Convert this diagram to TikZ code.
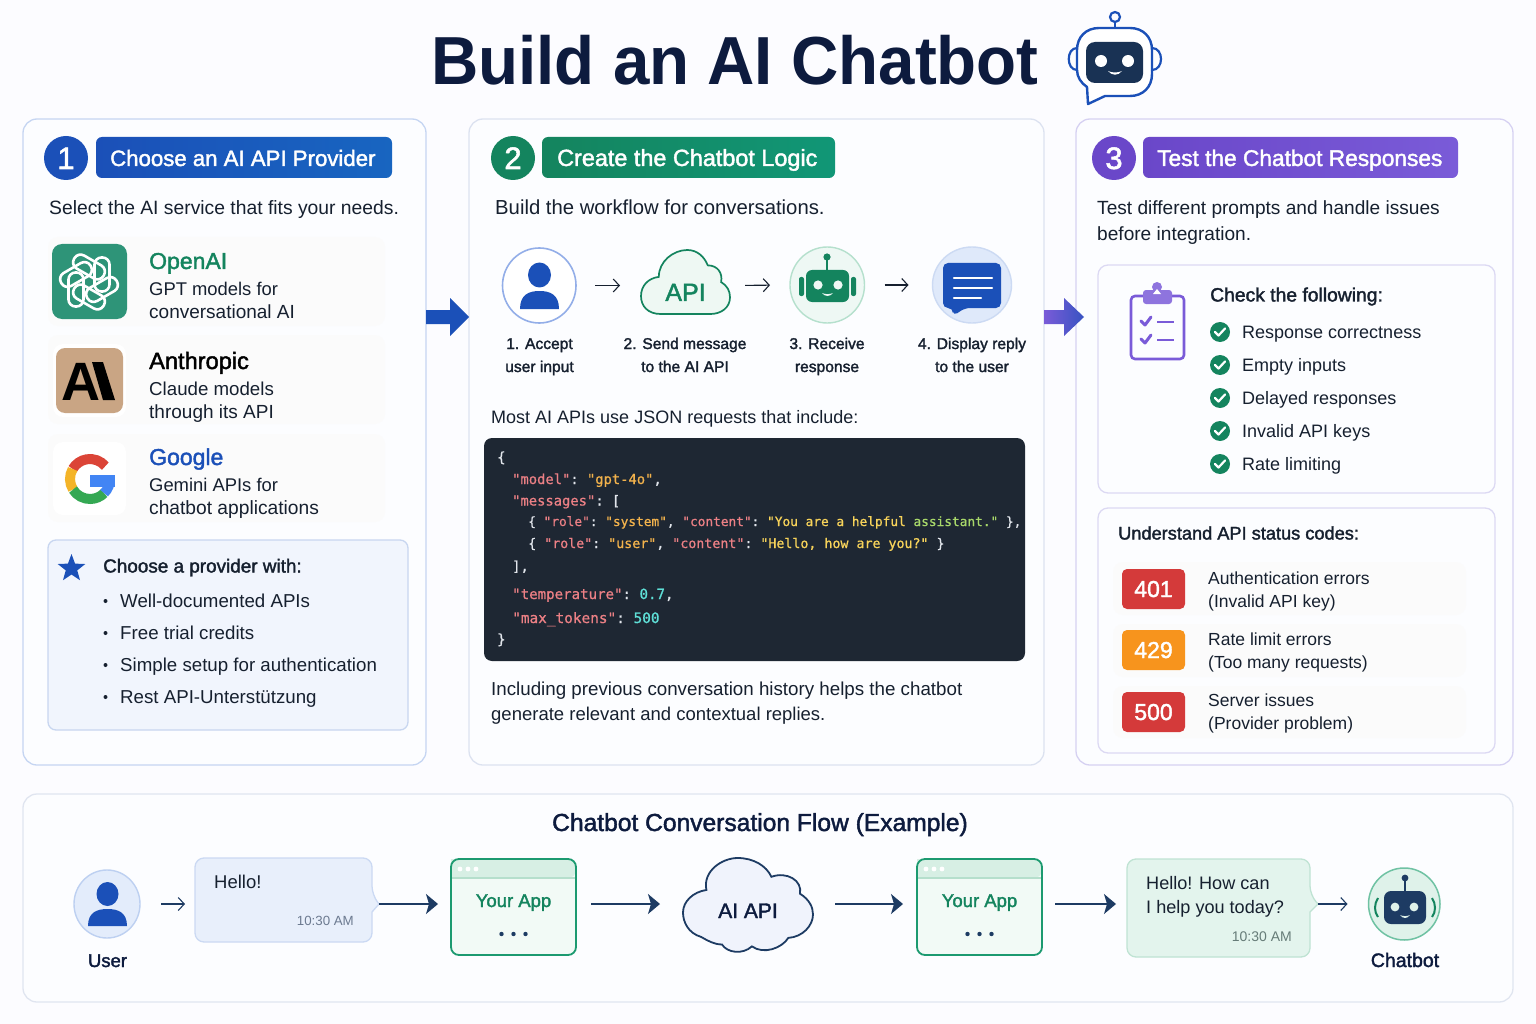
\documentclass[tikz,border=0pt]{standalone}
\usepackage{fontspec}
\usetikzlibrary{arrows.meta,shapes.geometric,calc}
\setmainfont{Liberation Sans}
\setmonofont[FakeBold=0.8]{DejaVu Sans Mono}
\newfontfamily\fsemi[FakeBold=1.8]{Liberation Sans}
\definecolor{ink}{HTML}{16202F}
\definecolor{navy}{HTML}{0D1B3E}
\definecolor{blu}{HTML}{1B50B8}
\definecolor{grn}{HTML}{14845E}
\definecolor{pur}{HTML}{7A5BD8}
\definecolor{pur2}{HTML}{6A47C9}
\definecolor{flow}{HTML}{1D3B63}
\definecolor{ckey}{HTML}{EC8085}
\definecolor{cstr}{HTML}{F2B24C}
\definecolor{cmsg}{HTML}{F7D35A}
\definecolor{cgrn}{HTML}{A8D86A}
\definecolor{cnum}{HTML}{5FE0D8}
\definecolor{cpun}{HTML}{E2E6EC}
\definecolor{bp1}{HTML}{C5D5F2}
\definecolor{bp2}{HTML}{DCE2F0}
\definecolor{bp3}{HTML}{D6D1F2}
\definecolor{bp4}{HTML}{E0E5F0}
\definecolor{pfill}{HTML}{FCFDFF}
\definecolor{oaig}{HTML}{2E9478}
\definecolor{anth}{HTML}{C9A584}
\definecolor{gred}{HTML}{DB4437}
\definecolor{gyel}{HTML}{F4B428}
\definecolor{ggrn}{HTML}{34A853}
\definecolor{gblu}{HTML}{4285F4}
\definecolor{cbf}{HTML}{F1F5FD}
\definecolor{cbd}{HTML}{C8D6F0}
\definecolor{perc}{HTML}{93AEE8}
\definecolor{cloudf}{HTML}{EEF8F3}
\definecolor{rcf}{HTML}{EEF8F4}
\definecolor{rcd}{HTML}{B5E0CD}
\definecolor{chf}{HTML}{DFE9FA}
\definecolor{chd}{HTML}{CCDAF3}
\definecolor{codebg}{HTML}{1E2733}
\definecolor{bxd}{HTML}{DCD9F3}
\definecolor{scr}{HTML}{D43A3A}
\definecolor{sco}{HTML}{F7941D}
\definecolor{fuf}{HTML}{E3ECFB}
\definecolor{fud}{HTML}{BDD0F1}
\definecolor{bubf}{HTML}{E8EFFB}
\definecolor{bubd}{HTML}{CBD9F3}
\definecolor{bub2f}{HTML}{E3F4ED}
\definecolor{bub2d}{HTML}{BFE3D3}
\definecolor{appf}{HTML}{F2FAF6}
\definecolor{appb}{HTML}{D7EFE4}
\definecolor{appl}{HTML}{B5DFCC}
\definecolor{appd}{HTML}{1C9A70}
\definecolor{cl2f}{HTML}{F0F3FC}
\definecolor{frf}{HTML}{DFF2EA}
\definecolor{frd}{HTML}{6FC2A3}
\definecolor{gtime}{HTML}{6C7A90}
\definecolor{gtime2}{HTML}{667C78}
\newcommand{\fs}[1]{\fontsize{#1}{#1}\selectfont}
\newcommand{\bx}[6][]{%
 \pgfmathsetmacro\bxw{#5-#3}\pgfmathsetmacro\bxh{#6-#4}\pgfmathsetmacro\bxcx{(#3+#5)/2}\pgfmathsetmacro\bxcy{(#4+#6)/2}%
 \node[shape=rectangle,inner sep=0,outer sep=0,minimum width=\bxw pt,minimum height=\bxh pt,#1] (#2) at (\bxcx,\bxcy) {};}
\newcommand{\xtl}[5][ink]{\node[anchor=base west,inner sep=0,text=#1] (#2) at ({#3},{#4}) {#5};}
\newcommand{\xtc}[5][ink]{\node[anchor=base,inner sep=0,text=#1] (#2) at ({#3},{#4}) {#5};}
\newcommand{\xtr}[5][ink]{\node[anchor=base east,inner sep=0,text=#1] (#2) at ({#3},{#4}) {#5};}
\newcommand{\ccl}[5][12.8]{\node[anchor=base west,inner sep=0,text=cpun,font=\ttfamily\fs{#1}] (#2) at (#3,#4) {#5};}
\newcommand{\ckk}[1]{\textcolor{ckey}{#1}}
\newcommand{\css}[1]{\textcolor{cstr}{#1}}
\newcommand{\cmm}[1]{\textcolor{cmsg}{#1}}
\newcommand{\cnn}[1]{\textcolor{cnum}{#1}}
\newcommand{\person}[7]{%
 \fill[blu] (#1,#2) ellipse[x radius=#3pt,y radius=#4pt];
 \fill[blu] ({#1-#7},#6) .. controls ({#1-#7},{#5+(#6-#5)*0.2}) and ({#1-#7*0.55},#5) .. (#1,#5) .. controls ({#1+#7*0.55},#5) and ({#1+#7},{#5+(#6-#5)*0.2}) .. ({#1+#7},#6) -- cycle;}
\newcommand{\chk}[2]{%
 \fill[grn] (#1,#2) circle[radius=10pt];
 \draw[white,line width=2.2pt,line cap=round,line join=round] ({#1-5},#2) -- ({#1-1.5},{#2+3.5}) -- ({#1+5},{#2-3.5});}
\newcommand{\cloudA}[5]{\begin{scope}[shift={(#1,#2)},xscale=#3/100,yscale=#4/100]
 \draw[#5] (22,100) .. controls (8,100) and (0,88) .. (0,72) .. controls (0,56) and (8,44) .. (20,42) .. controls (20,18) and (36,0) .. (52,0) .. controls (63,0) and (71,10) .. (75,24) .. controls (86,24) and (92,36) .. (90,50) .. controls (97,56) and (100,64) .. (100,74) .. controls (100,90) and (90,100) .. (78,100) -- cycle;
\end{scope}}
\newcommand{\cloudB}[5]{\begin{scope}[shift={(#1,#2)},xscale=#3/100,yscale=#4/100]
 \draw[#5] (14,84) .. controls (4,80) and (0,68) .. (0,58) .. controls (0,46) and (8,36) .. (18,34) .. controls (15,14) and (30,0) .. (42,0) .. controls (54,0) and (64,8) .. (68,20) .. controls (80,14) and (92,24) .. (90,38) .. controls (97,44) and (100,52) .. (100,60) .. controls (100,72) and (92,84) .. (81,85) .. controls (76,96) and (62,103) .. (53,94) .. controls (46,103) and (34,101) .. (30,92) .. controls (24,92) and (19,88) .. (14,84) -- cycle;
\end{scope}}
\newcommand{\appwin}[7]{%
 \bx[fill=appf,rounded corners=8pt]{#1}{#2}{#3}{#4}{#5}
 \fill[appb,rounded corners=8pt] (#2,#3) -- (#4,#3) -- (#4,{#3+19}) [sharp corners] -- (#2,{#3+19}) -- cycle;
 \draw[appl,line width=1.2pt] (#2,{#3+19}) -- (#4,{#3+19});
 \draw[appd,line width=1.8pt,rounded corners=8pt] (#2,#3) rectangle (#4,#5);
 \fill[white] ({#2+9},{#3+10}) circle[radius=2.4pt] ({#2+17},{#3+10}) circle[radius=2.4pt] ({#2+25},{#3+10}) circle[radius=2.4pt];
 \xtc[grn]{#7}{(#2+#4)/2}{#3+48}{\fsemi\fs{18.5}#6}
 \fill[flow] ({(#2+#4)/2-12},{#3+75}) circle[radius=2.2pt] ({(#2+#4)/2},{#3+75}) circle[radius=2.2pt] ({(#2+#4)/2+12},{#3+75}) circle[radius=2.2pt];}
\tikzset{
 panel/.style={fill=pfill,draw=#1,line width=1.3pt,rounded corners=14pt},
 faint/.style={fill=black!1.6,rounded corners=10pt},
 thinarr/.style={-{Straight Barb[length=6pt,width=13pt]},color=#1,line width=1.1pt},
 flowarr/.style={-{Stealth[length=12pt,width=20pt,inset=3pt]},color=flow,line width=1.6pt},
}
\begin{document}
\begin{tikzpicture}[x=1pt,y=-1pt]
\useasboundingbox (0,0) rectangle (1536,1024);
\fill[white!99!blue] (0,0) rectangle (1536,1024);
% title
\xtl[navy]{title}{431}{85}{\scalebox{0.963}[1]{\bfseries\fs{68}Build an AI Chatbot}}
% title robot
\draw[blu,line width=2.2pt] (1115,22) -- (1115,28);
\draw[blu,line width=2.2pt] (1115,17) circle[radius=5pt];
\draw[blu,line width=2.4pt,fill=white,line join=round] (1099,28) -- (1130,28) .. controls (1143,28) and (1152,37) .. (1152,50) -- (1152,74) .. controls (1152,87) and (1143,96) .. (1130,96) -- (1105,96) -- (1088,104) -- (1087,87) .. controls (1081,83) and (1077,77) .. (1077,70) -- (1077,50) .. controls (1077,37) and (1086,28) .. (1099,28) -- cycle;
\draw[blu,line width=2.2pt,line cap=round] (1077,48) .. controls (1066,48) and (1066,70) .. (1077,70);
\draw[blu,line width=2.2pt,line cap=round] (1152,48) .. controls (1164,48) and (1164,70) .. (1152,70);
\fill[flow!85!black,rounded corners=9pt] (1086,42) rectangle (1143,83);
\fill[white] (1101,61) circle[radius=6pt] (1128,61) circle[radius=6pt];
\fill[white] (1108,71) .. controls (1112,76) and (1118,76) .. (1122,71) .. controls (1118,73) and (1112,73) .. (1108,71) -- cycle;
% panels
\bx[panel=bp1]{p1}{23}{119}{426}{765}
\bx[panel=bp2]{p2}{469}{119}{1044}{765}
\bx[panel=bp3]{p3}{1076}{119}{1513}{765}
\bx[panel=bp4]{p4}{23}{794}{1513}{1002}
% big arrows
\fill[blu] (426,310) -- (450,310) -- (450,298) -- (469,317) -- (450,336) -- (450,324) -- (426,324) -- cycle;
\shade[left color=pur,right color=blu!70!pur] (1044,310) -- (1064,310) -- (1064,298) -- (1084,317) -- (1064,336) -- (1064,324) -- (1044,324) -- cycle;
% ---- panel 1
\bx[fill=blu,circle]{b1}{44}{136}{88}{180}
\xtc[white]{b1t}{66}{169}{\fs{31}\fsemi 1}
\bx[left color=blu,right color=blu!88!cyan,rounded corners=6pt]{l1}{96}{137}{392}{178}
\xtl[white]{l1t}{110}{166}{\fsemi\fs{22.2}Choose an AI API Provider}
\xtl{s1}{49}{215}{\fs{19.3}Select the AI service that fits your needs.}
\bx[faint]{r1}{48}{237}{385}{326}
\bx[faint]{r2}{48}{335}{385}{424}
\bx[faint]{r3}{48}{434}{385}{522}
% openai
\bx[fill=oaig,rounded corners=10pt]{oi}{52}{244}{127}{319}
\begin{scope}[shift={(89,282)}]
\foreach \a in {0,60,...,300}{
 \begin{scope}[rotate=\a]
 \begin{scope}[shift={(0,-15)},rotate=60]
 \draw[white,line width=2.6pt,rounded corners=7pt] (-7.5,-17) rectangle (7.5,17);
 \end{scope}
 \end{scope}}
\end{scope}
\xtl[grn]{n1}{149}{269}{\fsemi\fs{23}OpenAI}
\xtl{d1a}{149}{295}{\fs{18.4}GPT models for}
\xtl{d1b}{149}{318}{\fs{19}conversational AI}
% anthropic
\bx[fill=white,rounded corners=10pt]{ai0}{53}{344}{126}{417}
\bx[fill=anth,rounded corners=9pt]{ai}{56}{348}{123}{413}
\xtc[black]{ait}{81}{400}{\bfseries\fs{54}A}
\fill[black] (92,362) -- (103,362) -- (115,400) -- (103,400) -- cycle;
\xtl[black]{n2}{149}{369}{\fsemi\fs{23.6}Anthropic}
\xtl{d2a}{149}{395}{\fs{18.7}Claude models}
\xtl{d2b}{149}{418}{\fs{19}through its API}
% google
\bx[fill=white,rounded corners=10pt]{gi}{53}{442}{126}{515}
\begin{scope}[shift={(90,479)},x=1pt,y=1pt,line width=10pt]
\draw[gred] (40:20pt) arc[start angle=40,end angle=150,radius=20pt];
\draw[gyel] (150:20pt) arc[start angle=150,end angle=212,radius=20pt];
\draw[ggrn] (212:20pt) arc[start angle=212,end angle=315,radius=20pt];
\draw[gblu] (315:20pt) arc[start angle=315,end angle=360,radius=20pt];
\fill[gblu] (0,4) rectangle (25,-8);
\end{scope}
\xtl[blu]{n3}{149}{465}{\fsemi\fs{23}Google}
\xtl{d3a}{149}{491}{\fs{18.4}Gemini APIs for}
\xtl{d3b}{149}{514}{\fs{19.2}chatbot applications}
% choose box
\bx[fill=cbf,draw=cbd,line width=1.3pt,rounded corners=8pt]{cb}{48}{540}{408}{730}
\node[star,star points=5,star point ratio=2.4,fill=blu,minimum size=29pt,inner sep=0] (st) at (71.5,568.5) {};
\xtl{cbt}{103}{572.5}{\fsemi\fs{18.9}Choose a provider with:}
\foreach \y/\t/\n in {601/Well-documented APIs/a,633/Free trial credits/b,665/Simple setup for authentication/c,697/Rest API-Unterstützung/d}{
 \fill[ink] (105.5,\y) circle[radius=2pt];
 \xtl{cb\n}{120}{\y+6.8}{\fs{18.7}\t}
}
% ---- panel 2
\bx[fill=grn,circle]{b2}{491}{136}{535}{180}
\xtc[white]{b2t}{513}{169}{\fs{31}\fsemi 2}
\bx[left color=grn,right color=grn!85!cyan,rounded corners=6pt]{l2}{542}{137}{835}{178}
\xtl[white]{l2t}{557}{166}{\fsemi\fs{23.4}Create the Chatbot Logic}
\xtl{s2}{495}{215}{\fs{20.3}Build the workflow for conversations.}
% workflow
\bx[ellipse,fill=white,draw=perc,line width=1.6pt]{w1}{502.5}{248}{576}{323}
\person{539.5}{275}{11.5}{12.5}{291}{309}{19.5}
\cloudA{641}{250}{89}{64}{fill=cloudf,draw=grn,line width=1.7pt}
\node[inner sep=0,outer sep=0,minimum width=89pt,minimum height=64pt] (w2) at (685.5,282) {};
\xtc[grn]{w2t}{685.5}{301}{\fsemi\fs{25}API}
\bx[ellipse,fill=rcf,draw=rcd,line width=1.4pt]{w3}{790}{247}{864.5}{323}
\draw[grn,line width=2pt] (827,258) -- (827,271);
\fill[grn] (827,257) circle[radius=3.6pt];
\fill[grn,rounded corners=6pt] (806,270) rectangle (849,302);
\fill[grn,rounded corners=2pt] (799,277) rectangle (804,296) (851,277) rectangle (856,296);
\fill[rcf] (818,285) circle[radius=4.6pt] (838,285) circle[radius=4.6pt];
\fill[rcf] (822,293) .. controls (825,297) and (830,297) .. (833,293) .. controls (830,294.5) and (825,294.5) .. (822,293) -- cycle;
\bx[ellipse,fill=chf,draw=chd,line width=1.4pt]{w4}{932.5}{247}{1011.5}{323}
\fill[blu,rounded corners=5pt] (943,263) -- (1001,263) -- (1001,308) -- (965,308) -- (953,316) -- (953,308) -- (943,308) -- cycle;
\draw[white,line width=2.2pt,line cap=round] (954,278) -- (992,278) (954,288) -- (992,288) (954,298) -- (981,298);
\draw[thinarr=ink,shorten <=19pt,shorten >=21pt] (w1.east) -- (w2.west |- w1.east);
\draw[thinarr=ink,shorten <=15pt,shorten >=20pt] (w2.east |- w1.east) -- (w3.west);
\draw[thinarr=ink,shorten <=20pt,shorten >=24pt] (w3.east) -- (w4.west);
\foreach \x/\a/\b/\n in {539.5/1. Accept/user input/a,685/2. Send message/to the AI API/b,827/3. Receive/response/c,972/4. Display reply/to the user/d}{
 \xtc{wl\n1}{\x}{349}{\fs{15.6}\fsemi\a}
 \xtc{wl\n2}{\x}{372}{\fs{15.6}\fsemi\b}
}
\xtl{m2}{491}{423}{\fs{18}Most AI APIs use JSON requests that include:}
\bx[fill=codebg,rounded corners=8pt]{code}{484}{438}{1025}{661}
\ccl[14]{c1}{497}{462}{\{}
\ccl[13.8]{c2}{512}{484}{\ckk{"model"}: \css{"gpt-4o"},}
\ccl[13.8]{c3}{512}{505.5}{\ckk{"messages"}: [}
\ccl[12.8]{c4}{528}{526}{\{ \ckk{"role"}: \css{"system"}, \ckk{"content"}: \cmm{"You are a helpful} \textcolor{cgrn}{assistant."} \},}
\ccl[13.3]{c5}{528}{548}{\{ \ckk{"role"}: \css{"user"}, \ckk{"content"}: \cmm{"Hello, how are you?"} \}}
\ccl[13.8]{c6}{512}{571}{],}
\ccl[14.1]{c7}{512}{599}{\ckk{"temperature"}: \cnn{0.7},}
\ccl[14.4]{c8}{512}{623}{\ckk{"max\_tokens"}: \cnn{500}}
\ccl[14]{c9}{497}{644}{\}}
\xtl{i1}{491}{695}{\fs{18.75}Including previous conversation history helps the chatbot}
\xtl{i2}{491}{720}{\fs{18.5}generate relevant and contextual replies.}
% ---- panel 3
\bx[fill=pur2,circle]{b3}{1092}{136}{1136}{180}
\xtc[white]{b3t}{1114}{169}{\fs{31}\fsemi 3}
\bx[left color=pur2,right color=pur,rounded corners=6pt]{l3}{1143}{137}{1458}{178}
\xtl[white]{l3t}{1157}{166}{\fsemi\fs{22.7}Test the Chatbot Responses}
\xtl{s3a}{1097}{215}{\fs{19.1}Test different prompts and handle issues}
\xtl{s3b}{1097}{241}{\fs{19.1}before integration.}
\bx[fill=pfill,draw=bxd,line width=1.3pt,rounded corners=10pt]{chkb}{1098}{265}{1495}{493}
\draw[pur,line width=2.6pt,rounded corners=4pt] (1131,296) rectangle (1184,359);
\fill[pur!85!white,rounded corners=3pt] (1143,290) rectangle (1172,304);
\fill[pur!85!white] (1157,287) circle[radius=5pt];
\fill[white] (1157,289) -- (1161,294) -- (1153,294) -- cycle;
\draw[pur,line width=3pt,line cap=round,line join=round] (1141,321) -- (1145,325) -- (1151,317) (1141,339) -- (1145,343) -- (1151,335);
\draw[pur,line width=2.2pt] (1157,322) -- (1174,322) (1157,340) -- (1174,340);
\xtl{ct}{1210}{301.5}{\fsemi\fs{19.3}Check the following:}
\foreach \y/\t/\n in {332/Response correctness/a,365/Empty inputs/b,398/Delayed responses/c,431/Invalid API keys/d,464/Rate limiting/e}{
 \chk{1220}{\y}
 \xtl{ci\n}{1242}{\y+6.5}{\fs{18}\t}
}
\bx[fill=pfill,draw=bxd,line width=1.3pt,rounded corners=10pt]{stb}{1098}{508}{1495}{753}
\xtl{stt}{1118}{539.5}{\fsemi\fs{18.2}Understand API status codes:}
\bx[faint]{sr1}{1113}{562}{1466}{615}
\bx[faint]{sr2}{1113}{624}{1466}{677}
\bx[faint]{sr3}{1113}{686}{1466}{738}
\bx[fill=scr,rounded corners=5pt]{sc1}{1122}{569}{1185}{609}
\bx[fill=sco,rounded corners=5pt]{sc2}{1122}{630}{1185}{670}
\bx[fill=scr,rounded corners=5pt]{sc3}{1122}{692}{1185}{732}
\xtc[white]{sc1t}{1153.5}{597}{\fsemi\fs{23}401}
\xtc[white]{sc2t}{1153.5}{658}{\fsemi\fs{23}429}
\xtc[white]{sc3t}{1153.5}{720}{\fsemi\fs{23}500}
\xtl{st1a}{1208}{584}{\fs{17.5}Authentication errors}
\xtl{st1b}{1208}{607}{\fs{17.5}(Invalid API key)}
\xtl{st2a}{1208}{645}{\fs{17.5}Rate limit errors}
\xtl{st2b}{1208}{668}{\fs{17.5}(Too many requests)}
\xtl{st3a}{1208}{706}{\fs{17.5}Server issues}
\xtl{st3b}{1208}{729}{\fs{17.5}(Provider problem)}
% ---- bottom flow
\xtc[navy]{ft}{760}{831}{\fsemi\fs{24.6}Chatbot Conversation Flow (Example)}
\coordinate (fy) at (0,904);
\bx[ellipse,fill=fuf,draw=fud,line width=1.4pt]{fu}{74}{870}{140}{938}
\person{107.5}{894}{11}{12}{909}{926}{19.5}
\xtc[navy]{fut}{107.5}{967}{\fsemi\fs{18.5}User}
\fill[bubf,draw=bubd,line width=1.3pt,rounded corners=9pt] (195,858) -- (372,858) -- (372,895) [sharp corners] -- (379,904) -- (372,912) [rounded corners=9pt] -- (372,942) -- (195,942) -- cycle;
\bx{fb1}{195}{858}{379}{942}
\xtl{fb1a}{214}{888.5}{\fs{18.5}Hello!}
\xtr[gtime]{fb1b}{354}{925}{\fs{13.3}10:30 AM}
\appwin{fa1}{451}{859}{576}{955}{Your App}{fa1t}
\cloudB{683}{858}{130}{94}{fill=cl2f,draw=flow,line width=1.8pt}
\node[inner sep=0,outer sep=0,minimum width=130pt,minimum height=94pt] (fc) at (748,905) {};
\xtc[navy]{fct}{748}{918}{\fsemi\fs{21}AI API}
\appwin{fa2}{917}{859}{1042}{955}{Your App}{fa2t}
\fill[bub2f,draw=bub2d,line width=1.3pt,rounded corners=9pt] (1127,859) -- (1310,859) -- (1310,895) [sharp corners] -- (1318,904) -- (1310,912) [rounded corners=9pt] -- (1310,957) -- (1127,957) -- cycle;
\bx{fb2}{1127}{859}{1318}{957}
\xtl{fb2a}{1146}{889.5}{\fs{18.1}Hello! How can}
\xtl{fb2b}{1146}{913.5}{\fs{18.1}I help you today?}
\xtr[gtime2]{fb2c}{1292}{941}{\fs{14}10:30 AM}
\bx[ellipse,fill=frf,draw=frd,line width=1.5pt]{fr}{1368.5}{868}{1440}{940}
\draw[flow,line width=2pt] (1405,878) -- (1405,891);
\fill[flow] (1405,878) circle[radius=3.4pt];
\fill[flow,rounded corners=7pt] (1384,891) rectangle (1426,924);
\fill[frf] (1395,907) circle[radius=4.4pt] (1414,907) circle[radius=4.4pt];
\fill[frf] (1400,915) .. controls (1403,919) and (1407,919) .. (1410,915) .. controls (1407,916.5) and (1403,916.5) .. (1400,915) -- cycle;
\draw[grn,line width=2pt] (1378,898) .. controls (1374,904) and (1374,912) .. (1378,917) (1432,898) .. controls (1436,904) and (1436,912) .. (1432,917);
\xtc[navy]{frt}{1405}{967}{\fsemi\fs{19.5}Chatbot}
\draw[thinarr=flow,shorten <=21pt,shorten >=10pt] (fu.east |- fy) -- (fb1.west |- fy);
\draw[flowarr,shorten >=13pt] (fb1.east |- fy) -- (fa1.west |- fy);
\draw[flowarr,shorten <=15pt,shorten >=23pt] (fa1.east |- fy) -- (fc.west |- fy);
\draw[flowarr,shorten <=22pt,shorten >=14pt] (fc.east |- fy) -- (fa2.west |- fy);
\draw[flowarr,shorten <=13pt,shorten >=11pt] (fa2.east |- fy) -- (fb2.west |- fy);
\draw[thinarr=flow,shorten >=21pt] (fb2.east |- fy) -- (fr.west |- fy);
\end{tikzpicture}
\end{document}
